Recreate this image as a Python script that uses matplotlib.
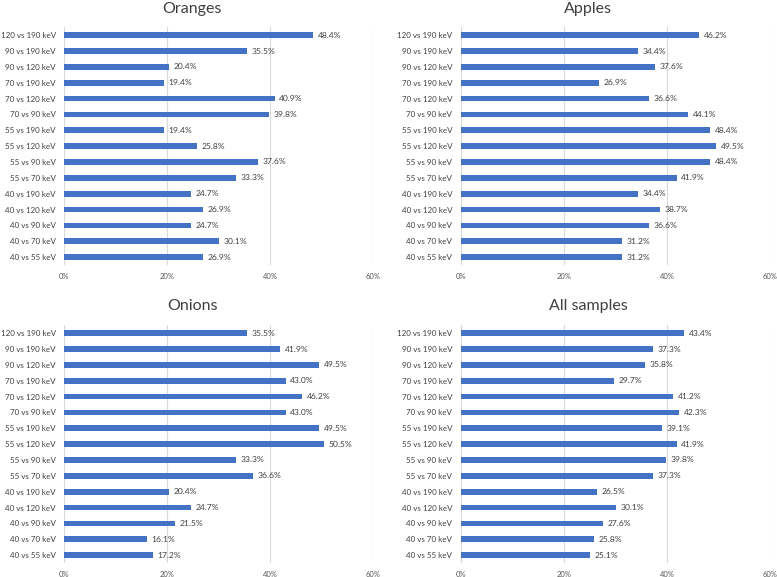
import matplotlib.pyplot as plt

# Comparaciones (de abajo hacia arriba)
comparaciones = ["40 vs 55 keV", "40 vs 70 keV", "40 vs 90 keV", "40 vs 120 keV",
                 "40 vs 190 keV", "55 vs 70 keV", "55 vs 90 keV", "55 vs 120 keV",
                 "55 vs 190 keV", "70 vs 90 keV", "70 vs 120 keV", "70 vs 190 keV",
                 "90 vs 120 keV", "90 vs 190 keV", "120 vs 190 keV"]

oranges = [26.9, 30.1, 24.7, 26.9, 24.7, 33.3, 37.6, 25.8, 19.4, 39.8, 40.9, 19.4, 20.4, 35.5, 48.4]
apples = [31.2, 31.2, 36.6, 38.7, 34.4, 41.9, 48.4, 49.5, 48.4, 44.1, 36.6, 26.9, 37.6, 34.4, 46.2]
onions = [17.2, 16.1, 21.5, 24.7, 20.4, 36.6, 33.3, 50.5, 49.5, 43.0, 46.2, 43.0, 49.5, 41.9, 35.5]
all_samples = [25.1, 25.8, 27.6, 30.1, 26.5, 37.3, 39.8, 41.9, 39.1, 42.3, 41.2, 29.7, 35.8, 37.3, 43.4]

titulos = ["Oranges", "Apples", "Onions", "All samples"]
series = [oranges, apples, onions, all_samples]
x_ticks = [0, 20, 40, 60]

plt.rcParams['font.family'] = ['Lato', 'DejaVu Sans']

fig = plt.figure(figsize=(7.77, 5.77), dpi=100)

# posiciones de los paneles en pixeles: x0, y0 (arriba), x1, y1 (abajo), centro del titulo, base del titulo
W, H = 777, 577
paneles = [
    (64.3, 27.3, 373.0, 265.0, 192, 13),
    (460.7, 27.3, 770.0, 265.0, 588, 13),
    (64.3, 325.3, 373.0, 563.0, 192, 310),
    (460.7, 325.3, 770.0, 563.0, 588, 310),
]

for (x0, y0, x1, y1, xt, yt), titulo, valores in zip(paneles, titulos, series):
    ax = fig.add_axes([x0 / W, 1 - y1 / H, (x1 - x0) / W, (y1 - y0) / H])
    pos = range(len(comparaciones))
    ax.barh(pos, valores, height=0.36, color='#4472C4', zorder=3)
    for p, v in zip(pos, valores):
        ax.text(v + 0.9, p, f"{v:.1f}%", va='center', ha='left',
                fontsize=6.1, color='#404040')
    ax.set_xlim(0, 60)
    ax.set_ylim(-0.5, len(comparaciones) - 0.5)
    ax.set_yticks(list(pos))
    ax.set_yticklabels(comparaciones, fontsize=5.8, color='#404040')
    ax.set_xticks(x_ticks)
    ax.set_xticklabels([f"{t}%" for t in x_ticks], fontsize=5.5, color='#595959')
    ax.tick_params(length=0, pad=6)
    ax.tick_params(axis='x', pad=6)
    ax.grid(axis='x', color='#d9d9d9', linewidth=0.8, zorder=0)
    for s in ax.spines.values():
        s.set_visible(False)
    fig.text(xt / W, 1 - yt / H, titulo, ha='center', va='baseline',
             fontsize=11.5, color='#404040')

plt.savefig('out.png', dpi=100)
